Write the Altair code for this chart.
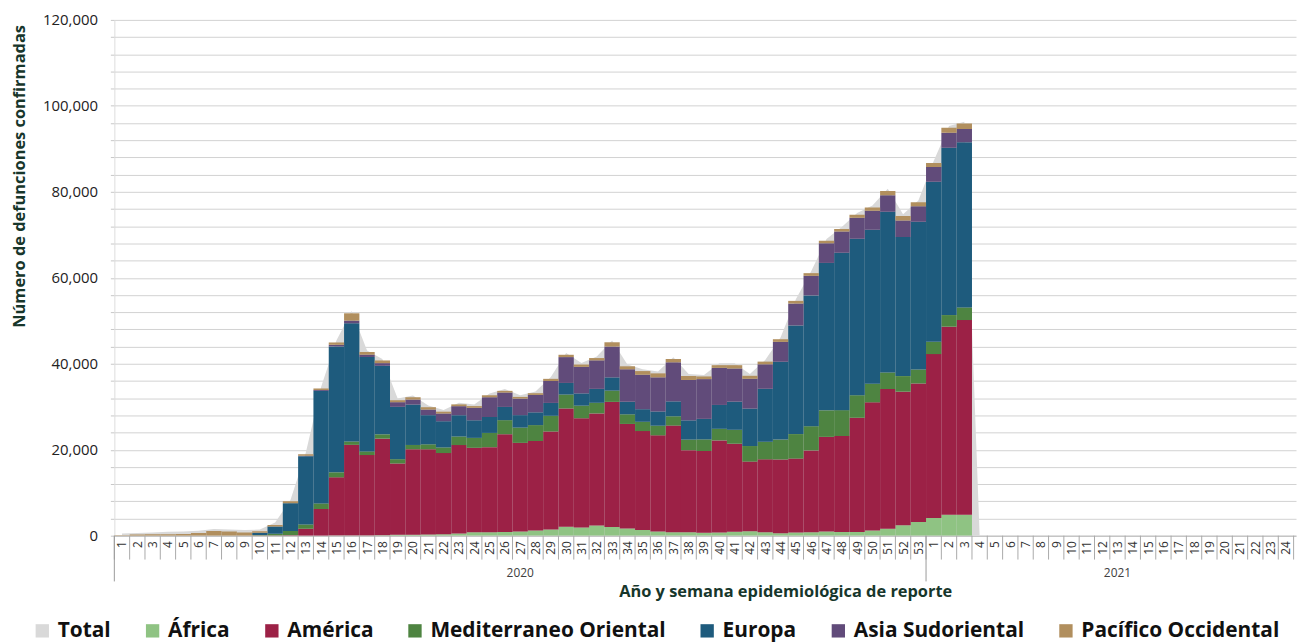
import altair as alt
import pandas as pd

# ---------------- data ----------------
weeks_2020 = list(range(1, 54))
weeks_2021 = list(range(1, 26))
year_names = ["2020", "2021"]
year_weeks = [weeks_2020, weeks_2021]
week_labels = [str(w) for w in weeks_2020 + weeks_2021]

regions = ["África", "América", "Mediterraneo Oriental", "Europa",
           "Asia Sudoriental", "Pacífico Occidental"]
series_colors = ["#d9d9d9", "#8fc383", "#9c2146", "#4e8441", "#1e5b7d",
                 "#614b7a", "#b18f5e"]

africa = [0, 0, 0, 0, 0, 0, 0, 0, 0, 0,
          0, 0, 0, 0, 30, 40, 60, 80, 230, 230,
          300, 320, 500, 800, 800, 850, 950, 1230, 1460, 2100,
          1900, 2400, 2000, 1650, 1300, 1000, 800, 780, 660, 740,
          900, 1050, 800, 550, 750, 800, 950, 850, 850, 1200,
          1600, 2450, 3200, 4100, 4850, 4850]
america = [0, 0, 0, 0, 0, 0, 0, 0, 0, 20,
           50, 100, 1600, 6200, 13550, 21100, 18700, 22500, 16570, 19880,
           19800, 18900, 20580, 19650, 19800, 22760, 20650, 20800, 22780, 27500,
           25430, 26050, 29130, 24350, 23040, 22350, 24820, 19110, 19040, 21430,
           20500, 16190, 16960, 17190, 17190, 19040, 22040, 22350, 26590, 29830,
           32520, 31060, 32220, 38150, 43780, 45320]
mediterraneo = [0, 0, 0, 0, 0, 0, 0, 0, 0, 150,
                400, 1000, 1000, 1300, 1160, 770, 850, 1000, 1000, 1000,
                1160, 1310, 2000, 2310, 3310, 3270, 3550, 3700, 3650, 3240,
                2930, 2470, 2620, 2240, 2160, 2240, 2160, 2470, 2700, 2700,
                3240, 3620, 4090, 4620, 5700, 5630, 6170, 6010, 5240, 4320,
                3850, 3620, 3240, 2850, 2700, 2930]
europa = [0, 0, 0, 0, 0, 0, 0, 0, 0, 540,
          1700, 6460, 15900, 26200, 29290, 27510, 21970, 15950, 12180, 9400,
          6780, 6100, 4950, 4090, 3700, 3080, 2900, 2970, 3000, 2700,
          2850, 3240, 3080, 2930, 2930, 3310, 3470, 4470, 4780, 5550,
          6550, 8710, 12330, 18110, 25280, 30440, 34300, 36610, 36380, 35840,
          37380, 32370, 34370, 37230, 38920, 38460]
asia = [0, 0, 0, 0, 0, 0, 0, 0, 0, 0,
        0, 0, 100, 200, 385, 620, 540, 620, 1080, 1160,
        1310, 1800, 2100, 2900, 4600, 3350, 3850, 4050, 5100, 6010,
        6170, 6630, 7170, 7550, 8020, 7940, 9090, 9400, 9250, 8630,
        7710, 6940, 5700, 4620, 5090, 4550, 4550, 4930, 4930, 4390,
        3850, 3850, 3620, 3470, 3470, 3080]
pacifico = [100, 300, 330, 350, 380, 620, 1100, 1000, 770, 300,
            350, 460, 350, 350, 540, 1700, 620, 620, 460, 540,
            540, 420, 420, 400, 460, 385, 385, 400, 500, 540,
            540, 540, 1000, 690, 850, 925, 770, 925, 620, 620,
            770, 690, 620, 620, 620, 620, 620, 620, 690, 770,
            1000, 1000, 925, 925, 1160, 1230]
total = [500, 650, 750, 900, 1000, 1150, 1550, 1450, 1300, 1450,
         3050, 8300, 19300, 34600, 45400, 52300, 43100, 41100, 31900, 32600,
         30300, 29250, 30950, 30550, 33100, 34100, 32700, 33550, 36900, 42500,
         40200, 41700, 45400, 39800, 38700, 38200, 41500, 37600, 37400, 40100,
         40100, 37600, 40900, 46100, 55000, 61500, 69000, 71800, 75100, 76800,
         80700, 74800, 78000, 87200, 95300, 96300,
         0, 0, 0, 0, 0, 0, 0, 0, 0, 0, 0, 0, 0, 0, 0, 0, 0, 0, 0, 0, 0, 0]

region_values = [africa, america, mediterraneo, europa, asia, pacifico]

# ---------------- tables ----------------
rows = []
for order, (name, vals) in enumerate(zip(regions, region_values)):
    for i, v in enumerate(vals):
        rows.append({"idx": i + 1, "region": name, "value": v, "order": order})
bars_df = pd.DataFrame(rows)

total_df = pd.DataFrame({"idx": list(range(1, len(total) + 1)),
                         "total": total, "serie": "Total"})

n_cat = len(week_labels)
sep_df = pd.DataFrame({"b": [i + 0.5 for i in range(0, n_cat)]})

bounds = [0.5]
for wk in year_weeks:
    bounds.append(bounds[-1] + len(wk))
year_sep_df = pd.DataFrame({"b": bounds[:-1]})
year_lab_df = pd.DataFrame({"year": year_names,
                            "mid": [(bounds[k] + bounds[k + 1]) / 2 for k in range(len(year_names))]})

# ---------------- layout ----------------
W = 1189
H = 519
px_per_cat = 15.41
xmax = 0.5 + W / px_per_cat

xscale = alt.Scale(domain=[0.5, xmax], nice=False, zero=False)
yscale = alt.Scale(domain=[0, 120000], nice=False)
cscale = alt.Scale(domain=["Total"] + regions, range=series_colors)

label_expr = "[" + ",".join("'%s'" % s for s in week_labels) + "][datum.value - 1]"

title_color = "#17362b"
legend = alt.Legend(title=None, orient="none", legendX=-83, legendY=604,
                    direction="horizontal", symbolType="square", symbolSize=180,
                    symbolStrokeWidth=0, labelFontSize=21, labelFontWeight="bold",
                    labelColor="#111111", columnPadding=31, labelOffset=5,
                    labelLimit=400)

x_axis = alt.Axis(values=list(range(1, n_cat + 1)), tickCount=500,
                  labelExpr=label_expr,
                  labelAngle=270, labelFontSize=12, labelColor="#333333",
                  labelPadding=5, labelOverlap=False, labelFlush=False,
                  ticks=False, grid=False, domainColor="#b8b8b8",
                  title="Año y semana epidemiológica de reporte",
                  titleFontSize=16.5, titleFontWeight="bold", titleColor=title_color,
                  titleX=675, titleY=56, titleAlign="center", titleBaseline="middle",
                  titleAnchor="start")

y_axis = alt.Axis(values=list(range(0, 120001, 4000)), tickCount=500,
                  labelExpr="datum.value % 20000 == 0 ? format(datum.value, ',') : ''",
                  labelOverlap=False, labelFlush=False,
                  labelFontSize=15, labelColor="#222222", labelPadding=13,
                  tickSize=4, tickColor="#c8c8c8", gridColor="#d2d2d2",
                  domainColor="#dddddd",
                  title="Número de defunciones confirmadas",
                  titleFontSize=16.5, titleFontWeight="bold", titleColor=title_color,
                  titleX=-95, titleY=157, titleAlign="center", titleBaseline="middle",
                  titleAngle=270, titleAnchor="start")

area = alt.Chart(total_df).mark_area(interpolate="linear", clip=True, opacity=1).encode(
    x=alt.X("idx:Q", scale=xscale, axis=x_axis),
    y=alt.Y("total:Q", scale=yscale, axis=y_axis),
    color=alt.Color("serie:N", scale=cscale, legend=legend),
)

bars = alt.Chart(bars_df).transform_calculate(
    x0="datum.idx - 0.5", x1="datum.idx + 0.5"
).transform_stack(
    stack="value", groupby=["idx"], sort=[alt.SortField("order")], as_=["v0", "v1"]
).mark_bar(stroke=None, strokeWidth=0, clip=True).encode(
    x=alt.X("x0:Q", scale=xscale),
    x2="x1:Q",
    y=alt.Y("v0:Q", scale=yscale),
    y2="v1:Q",
    color=alt.Color("region:N", scale=cscale, legend=legend),
)

seps = alt.Chart(sep_df).mark_rule(color="#a9a9a9", strokeWidth=1).encode(
    x=alt.X("b:Q", scale=xscale),
    y=alt.value(H), y2=alt.value(H + 24),
)

year_seps = alt.Chart(year_sep_df).mark_rule(color="#9a9a9a", strokeWidth=1).encode(
    x=alt.X("b:Q", scale=xscale),
    y=alt.value(H), y2=alt.value(H + 46),
)

year_labels = alt.Chart(year_lab_df).mark_text(fontSize=12, color="#404040").encode(
    x=alt.X("mid:Q", scale=xscale),
    y=alt.value(H + 38),
    text="year:N",
)

chart = alt.layer(area, bars, seps, year_seps, year_labels).properties(
    width=W, height=H,
    autosize=alt.AutoSizeParams(type="none"),
    padding={"left": 107, "top": 10, "right": 2, "bottom": 106},
).configure(font="Open Sans").configure_view(stroke=None)

chart.save("out.html", embed_options={"renderer": "svg", "actions": False})
